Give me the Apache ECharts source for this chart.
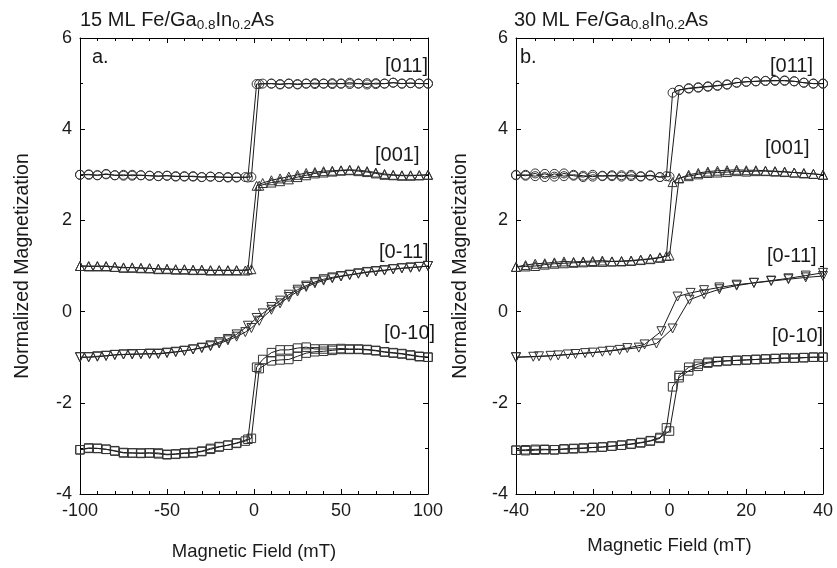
<!DOCTYPE html>
<html>
<head>
<meta charset="utf-8">
<script src="https://cdn.jsdelivr.net/npm/echarts@6/dist/echarts.min.js"></script>
<style>
  html, body { margin: 0; padding: 0; background: #fff; }
  #chart { width: 837px; height: 568px; }
</style>
</head>
<body>
<div id="chart"></div>
<script>
// panel a: 15 ML, field sweep -100..100 mT
// up = sweep from negative to positive, down = sweep back
const fieldUpA = [-100,-95,-90,-85,-80,-75,-70,-65,-60,-55,-50,-45,-40,-35,-30,-25,-20,-15,-10,-5,-1.5,3,10,15,20,25,30,35,40,45,50,55,60,65,70,75,80,85,90,95,100]
const fieldDownA = [100,95,90,85,80,75,70,65,60,55,50,45,40,35,30,25,20,15,10,5,1.5,-3.5,-10,-15,-20,-25,-30,-35,-40,-45,-50,-55,-60,-65,-70,-75,-80,-85,-90,-95,-100]

const m011UpA = [3.00,3.01,2.99,3.02,2.99,2.98,3.00,2.99,2.98,2.97,2.98,2.97,2.96,2.97,2.95,2.96,2.95,2.95,2.94,2.95,2.95,
  4.99,5.00,4.98,5.00,4.99,5.00,5.01,5.00,4.99,5.00,5.02,5.00,4.98,5.01,5.00,5.02,5.00,5.01,5.00,5.00]
const m011DownA = [5.00,5.00,5.01,5.00,5.02,5.00,4.99,5.01,5.00,4.99,5.00,5.01,5.00,4.99,5.00,4.98,5.00,4.99,5.00,5.00,4.99,
  2.94,2.95,2.94,2.95,2.96,2.95,2.96,2.97,2.96,2.98,2.97,2.98,2.99,2.98,3.00,2.99,3.01,2.99,3.00,3.00]
const m001UpA = [1.00,1.00,0.99,1.00,0.98,0.97,0.96,0.96,0.95,0.94,0.93,0.93,0.92,0.92,0.91,0.90,0.91,0.90,0.91,0.90,0.93,
  2.76,2.83,2.86,2.90,2.95,2.99,3.03,3.05,3.07,3.09,3.10,3.08,3.06,3.03,3.00,2.99,2.98,2.98,2.99,3.00]
const m001DownA = [3.00,2.99,2.99,2.99,3.00,3.02,3.05,3.08,3.10,3.11,3.10,3.09,3.08,3.06,3.04,3.00,2.96,2.92,2.88,2.82,2.76,
  0.92,0.90,0.91,0.90,0.91,0.92,0.91,0.93,0.92,0.94,0.93,0.95,0.95,0.97,0.96,0.98,0.99,1.00,0.99,1.00]
const m0m11UpA = [-1.00,-1.00,-0.99,-0.97,-0.95,-0.94,-0.94,-0.93,-0.93,-0.93,-0.91,-0.89,-0.86,-0.83,-0.80,-0.76,-0.70,-0.63,-0.55,-0.45,-0.36,
  -0.20,0.04,0.18,0.32,0.44,0.54,0.62,0.68,0.73,0.77,0.80,0.83,0.86,0.88,0.90,0.93,0.95,0.96,0.98,1.00]
const m0m11DownA = [1.00,0.98,0.97,0.95,0.93,0.91,0.89,0.87,0.84,0.81,0.78,0.75,0.71,0.65,0.57,0.48,0.37,0.24,0.10,-0.04,-0.14,
  -0.31,-0.50,-0.60,-0.67,-0.74,-0.79,-0.83,-0.86,-0.88,-0.90,-0.92,-0.92,-0.93,-0.93,-0.94,-0.95,-0.97,-0.98,-1.00,-1.00]
const m0m10UpA = [-3.03,-2.99,-3.00,-3.02,-3.06,-3.10,-3.10,-3.11,-3.10,-3.10,-3.13,-3.12,-3.10,-3.09,-3.06,-3.00,-2.96,-2.93,-2.89,-2.84,-2.78,
  -1.25,-1.08,-1.06,-1.05,-0.98,-0.91,-0.88,-0.87,-0.85,-0.83,-0.83,-0.83,-0.84,-0.86,-0.89,-0.91,-0.93,-0.96,-0.99,-1.00]
const m0m10DownA = [-1.00,-0.98,-0.95,-0.92,-0.90,-0.88,-0.85,-0.83,-0.82,-0.82,-0.81,-0.82,-0.82,-0.82,-0.78,-0.80,-0.84,-0.84,-0.90,-1.05,-1.22,
  -2.80,-2.88,-2.93,-2.97,-3.02,-3.07,-3.10,-3.11,-3.13,-3.14,-3.12,-3.10,-3.10,-3.10,-3.09,-3.05,-3.02,-3.00,-3.00,-3.03]

// panel b: 30 ML, field sweep -40..40 mT
const fieldUpB = [-40,-37.5,-35,-32.5,-30,-27.5,-25,-22.5,-20,-17.5,-15,-12.5,-10,-7.5,-5,-2.5,0,2.5,5,7.5,10,12.5,15,17.5,20,22.5,25,27.5,30,32.5,35,37.5,40]
const fieldDownB = [40,37.5,35,32.5,30,27.5,25,22.5,20,17.5,15,12.5,10,7.5,5,2.5,0.8,-0.8,-2.5,-5,-7.5,-10,-12.5,-15,-17.5,-20,-22.5,-25,-27.5,-30,-32.5,-35,-37.5,-40]

const m011UpB = [3.00,2.98,3.03,2.95,3.02,2.97,3.00,2.98,2.96,2.98,2.97,2.99,2.97,2.96,2.98,2.95,2.96,
  4.86,4.90,4.92,4.94,4.96,4.98,5.02,5.04,5.05,5.06,5.06,5.07,5.05,5.02,5.00,5.00]
const m011DownB = [5.00,5.00,5.02,5.05,5.06,5.07,5.06,5.05,5.04,5.02,4.98,4.95,4.93,4.91,4.89,4.86,4.80,
  2.97,2.95,2.99,2.97,3.00,2.96,2.99,2.97,3.00,2.95,2.98,3.03,2.96,3.02,2.97,3.00,2.99]
const m001UpB = [0.98,1.02,1.05,1.06,1.08,1.10,1.09,1.10,1.11,1.12,1.10,1.11,1.12,1.14,1.16,1.19,1.23,
  2.92,3.00,3.04,3.07,3.09,3.10,3.11,3.10,3.10,3.09,3.08,3.07,3.05,3.04,3.02,3.00]
const m001DownB = [3.00,3.02,3.03,3.05,3.06,3.07,3.08,3.08,3.07,3.08,3.06,3.05,3.04,3.01,2.97,2.93,2.84,
  1.22,1.18,1.15,1.13,1.11,1.10,1.10,1.09,1.09,1.08,1.07,1.06,1.05,1.03,1.00,0.99,0.98]
const m0m10UpB = [-3.04,-3.03,-3.02,-3.02,-3.03,-3.01,-3.00,-2.99,-2.98,-2.97,-2.95,-2.93,-2.90,-2.87,-2.83,-2.76,-2.62,
  -1.40,-1.22,-1.15,-1.11,-1.09,-1.08,-1.07,-1.06,-1.05,-1.04,-1.03,-1.02,-1.02,-1.01,-1.00,-1.00]
const m0m10DownB = [-1.00,-1.00,-1.01,-1.02,-1.02,-1.03,-1.04,-1.05,-1.06,-1.07,-1.08,-1.10,-1.13,-1.20,-1.30,-1.45,-1.65,
  -2.55,-2.78,-2.84,-2.88,-2.91,-2.93,-2.95,-2.97,-2.98,-3.00,-3.01,-3.02,-3.03,-3.03,-3.04,-3.05,-3.04]

// [0-11] in panel b was measured on a coarser field grid
const fieldUpC = [-40,-35.5,-31,-26.5,-22,-17.5,-13,-8,-3.4,0.8,5.2,9,13,17.5,22,26.5,31,35.5,40]
const m0m11UpC = [-1.00,-0.99,-0.97,-0.94,-0.91,-0.88,-0.84,-0.79,-0.70,-0.37,0.26,0.38,0.49,0.57,0.63,0.68,0.73,0.79,0.85]
const fieldDownC = [40,35.5,31,26.5,22,17.5,13,9,5.5,2.1,-2.1,-6.5,-11,-15.5,-20,-24.5,-29,-34,-40]
const m0m11DownC = [0.78,0.75,0.71,0.67,0.63,0.59,0.53,0.47,0.41,0.33,-0.43,-0.72,-0.80,-0.86,-0.90,-0.93,-0.96,-0.98,-1.00]

const xTicksA = [-100, 100, 50]   // min, max, interval
const xTicksB = [-40, 40, 20]
const yTicks = [-4, 6, 2]

const FONT = "'Liberation Sans', Arial, Helvetica, sans-serif"
const INK = '#1a1a1a'

var chart = echarts.init(document.getElementById('chart'))

// one hysteresis branch as a line series with hollow markers
function branch (panel, fields, vals, symbol, size, rotate) {
  return {
    type: 'line',
    xAxisIndex: panel * 2,
    yAxisIndex: panel * 2,
    data: fields.map((f, i) => [f, vals[i]]),
    symbol: symbol,
    symbolSize: size,
    symbolRotate: rotate || 0,
    showAllSymbol: true,
    lineStyle: { color: INK, width: 1 },
    itemStyle: { color: 'rgba(255,255,255,0)', borderColor: '#333', borderWidth: 1 },
    emphasis: { disabled: true },
    silent: true,
    z: 3
  }
}

function xAxes (grid, t, bottom) {
  return {
    type: 'value',
    gridIndex: grid,
    position: bottom ? 'bottom' : 'top',
    min: t[0], max: t[1], interval: t[2],
    name: bottom ? 'Magnetic Field (mT)' : '',
    nameLocation: 'middle',
    nameGap: grid === 0 ? 48 : 42,
    nameTextStyle: { fontFamily: FONT, fontSize: 18.5, color: INK },
    axisLine: { show: true, onZero: false, lineStyle: { color: '#000', width: 1 } },
    axisTick: { show: true, inside: true, length: 5, lineStyle: { color: '#000' } },
    minorTick: { show: true, splitNumber: grid === 0 ? 5 : 4, length: 3, lineStyle: { color: '#000' } },
    splitLine: { show: false },
    axisLabel: { show: bottom, margin: 8, fontFamily: FONT, fontSize: 18, color: INK }
  }
}

function yAxes (grid, left) {
  return {
    type: 'value',
    gridIndex: grid,
    position: left ? 'left' : 'right',
    min: yTicks[0], max: yTicks[1], interval: yTicks[2],
    name: left ? 'Normalized Magnetization' : '',
    nameLocation: 'middle',
    nameGap: grid === 0 ? 47 : 45,
    nameTextStyle: { fontFamily: FONT, fontSize: 19.5, color: INK },
    axisLine: { show: true, onZero: false, lineStyle: { color: '#000', width: 1 } },
    axisTick: { show: true, inside: true, length: 5, lineStyle: { color: '#000' } },
    minorTick: { show: true, splitNumber: 2, length: 3, lineStyle: { color: '#000' } },
    splitLine: { show: false },
    axisLabel: { show: left, margin: 8, fontFamily: FONT, fontSize: 18, color: INK }
  }
}

function tag (x, y, txt) {
  return {
    type: 'text', left: x, top: y,
    style: { text: txt, fill: INK, font: '20px ' + FONT }
  }
}

var sub = { s: { fontSize: 13.5, fontFamily: FONT, color: INK, padding: [10, 0, 0, 0] } }

var option = {
  animation: false,
  backgroundColor: '#fff',
  title: [
    { text: '15 ML Fe/Ga{s|0.8}In{s|0.2}As', left: 75, top: 3,
      textStyle: { fontFamily: FONT, fontSize: 20, fontWeight: 'normal', color: INK, rich: sub } },
    { text: '30 ML Fe/Ga{s|0.8}In{s|0.2}As', left: 509, top: 3,
      textStyle: { fontFamily: FONT, fontSize: 20, fontWeight: 'normal', color: INK, rich: sub } }
  ],
  grid: [
    { left: 80, top: 38, width: 348, height: 456 },
    { left: 516, top: 38, width: 307, height: 456 }
  ],
  xAxis: [xAxes(0, xTicksA, true), xAxes(0, xTicksA, false), xAxes(1, xTicksB, true), xAxes(1, xTicksB, false)],
  yAxis: [yAxes(0, true), yAxes(0, false), yAxes(1, true), yAxes(1, false)],
  graphic: [
    tag(92, 47, 'a.'),
    tag(385, 56, '[011]'),
    tag(375, 145, '[001]'),
    tag(379, 242, '[0-11]'),
    tag(384, 323, '[0-10]'),
    tag(520, 47, 'b.'),
    tag(770, 56, '[011]'),
    tag(765, 138, '[001]'),
    tag(767, 246, '[0-11]'),
    tag(772, 326, '[0-10]')
  ],
  series: [
    branch(0, fieldUpA, m011UpA, 'circle', 9),
    branch(0, fieldDownA, m011DownA, 'circle', 9),
    branch(0, fieldUpA, m001UpA, 'triangle', 9),
    branch(0, fieldDownA, m001DownA, 'triangle', 9),
    branch(0, fieldUpA, m0m11UpA, 'triangle', 9, 180),
    branch(0, fieldDownA, m0m11DownA, 'triangle', 9, 180),
    branch(0, fieldUpA, m0m10UpA, 'rect', 8.5),
    branch(0, fieldDownA, m0m10DownA, 'rect', 8.5),
    branch(1, fieldUpB, m011UpB, 'circle', 9),
    branch(1, fieldDownB, m011DownB, 'circle', 9),
    branch(1, fieldUpB, m001UpB, 'triangle', 9),
    branch(1, fieldDownB, m001DownB, 'triangle', 9),
    branch(1, fieldUpC, m0m11UpC, 'triangle', 9, 180),
    branch(1, fieldDownC, m0m11DownC, 'triangle', 9, 180),
    branch(1, fieldUpB, m0m10UpB, 'rect', 8.5),
    branch(1, fieldDownB, m0m10DownB, 'rect', 8.5)
  ]
}

chart.setOption(option)
</script>
</body>
</html>
